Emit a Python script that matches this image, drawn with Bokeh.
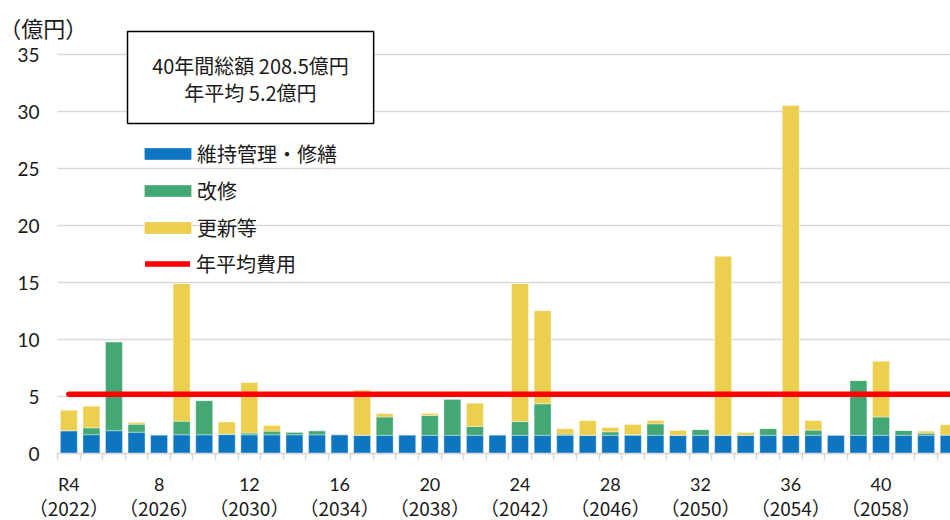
from bokeh.plotting import figure
from bokeh.models import (ColumnDataSource, FixedTicker, LinearAxis, Legend, LegendItem,
                          BoxAnnotation, Label, Range1d)
from bokeh.embed import file_html
from bokeh.resources import INLINE

# ---------------- data ----------------
reiwa = [4, 5, 6, 7, 8, 9, 10, 11, 12, 13, 14, 15, 16, 17, 18, 19, 20, 21, 22, 23,
         24, 25, 26, 27, 28, 29, 30, 31, 32, 33, 34, 35, 36, 37, 38, 39, 40, 41, 42, 43]

tick_years = [4, 8, 12, 16, 20, 24, 28, 32, 36, 40]
tick_labels = ["R4", "8", "12", "16", "20", "24", "28", "32", "36", "40"]
western_labels = ["（2022）", "（2026）", "（2030）", "（2034）", "（2038）",
                  "（2042）", "（2046）", "（2050）", "（2054）", "（2058）"]

maintenance = [2.0, 1.65, 2.0, 1.87, 1.64, 1.64, 1.64, 1.66, 1.64, 1.64,
               1.64, 1.64, 1.64, 1.6, 1.6, 1.64, 1.6, 1.6, 1.6, 1.64,
               1.6, 1.6, 1.6, 1.6, 1.6, 1.6, 1.6, 1.6, 1.6, 1.6,
               1.6, 1.6, 1.6, 1.6, 1.62, 1.6, 1.6, 1.6, 1.6, 1.62]
renovation = [0.0, 0.6, 7.8, 0.7, 0.0, 1.2, 3.0, 0.05, 0.15, 0.32,
              0.23, 0.36, 0.05, 0.0, 1.6, 0.0, 1.73, 3.17, 0.77, 0.0,
              1.2, 2.76, 0.1, 0.0, 0.3, 0.06, 1.0, 0.0, 0.5, 0.0,
              0.0, 0.59, 0.0, 0.45, 0.0, 4.8, 1.6, 0.42, 0.18, 0.0]
renewal = [1.8, 1.9, 0.0, 0.15, 0.0, 12.06, 0.0, 1.05, 4.44, 0.5,
           0.0, 0.0, 0.0, 3.95, 0.3, 0.0, 0.17, 0.0, 2.04, 0.0,
           12.1, 8.16, 0.47, 1.29, 0.38, 0.88, 0.29, 0.42, 0.0, 15.7,
           0.24, 0.0, 28.93, 0.84, 0.0, 0.0, 4.9, 0.0, 0.18, 0.9]

annual_avg = 5.2
y_ticks = [0, 5, 10, 15, 20, 25, 30, 35]

series_keys = ["maintenance", "renovation", "renewal"]
series_names = ["維持管理・修繕", "改修", "更新等"]
avg_name = "年平均費用"
series_colors = ["#0E76C0", "#43A873", "#ECCF4E"]
avg_color = "#FF0000"
unit_text = "（億円）"
box_lines = ["40年間総額 208.5億円", "年平均 5.2億円"]

# ---------------- figure ----------------
JP = "Noto Sans CJK JP"
NUM = "Lato"
GRID = "#D9D9D9"
TXT = "#1A1A1A"

x_start = reiwa[0] - 0.5          # left edge of the category area
x_end = reiwa[-1] + 0.5

src = ColumnDataSource(dict(x=reiwa, maintenance=maintenance,
                            renovation=renovation, renewal=renewal))

# frame covers the whole canvas; axes are drawn at fixed data locations
p = figure(width=950, height=520, output_backend="svg", toolbar_location=None,
           x_range=Range1d(0.97, 43.08), y_range=Range1d(-5.877, 39.737),
           x_axis_location=None, y_axis_location="left",
           min_border_left=0, min_border_right=0, min_border_top=0, min_border_bottom=0)
p.outline_line_color = None
p.background_fill_color = "white"
p.xgrid.visible = False
p.ygrid.visible = False

# y axis drawn at the left edge of the category area
yax = p.yaxis[0]
yax.fixed_location = x_start
yax.ticker = FixedTicker(ticks=y_ticks)
yax.axis_line_color = None
yax.major_tick_line_color = None
yax.minor_tick_line_color = None
yax.major_tick_out = 0
yax.major_tick_in = 0
yax.major_label_standoff = 18
yax.major_label_text_font = NUM
yax.major_label_text_font_size = "19px"
yax.major_label_text_color = TXT

# horizontal gridlines (only over the category area)
p.segment(x0=[x_start] * len(y_ticks), x1=[x_end] * len(y_ticks), y0=y_ticks, y1=y_ticks,
          line_color=GRID, line_width=1.5)

# bars
bar_renderers = p.vbar_stack(series_keys, x="x", width=0.75, color=series_colors,
                             line_color="white", line_alpha=0.45, line_width=0.8,
                             source=src)

# average line
avg_r = p.line(x=[reiwa[0], x_end + 1], y=[annual_avg, annual_avg],
               line_color=avg_color, line_width=5.5, line_cap="round")

# x axes (fixed at y = 0)
boundaries = [r - 0.5 for r in reiwa] + [x_end]
ax1 = LinearAxis(ticker=FixedTicker(ticks=tick_years, minor_ticks=boundaries),
                 major_label_overrides=dict(zip(tick_years, tick_labels)),
                 bounds=(x_start, x_end), fixed_location=0)
ax1.axis_line_color = GRID
ax1.axis_line_width = 1.5
ax1.major_tick_line_color = None
ax1.major_tick_out = 0
ax1.major_tick_in = 0
ax1.minor_tick_line_color = GRID
ax1.minor_tick_line_width = 1.5
ax1.minor_tick_out = 7
ax1.minor_tick_in = 0
ax1.major_label_standoff = 12
ax1.major_label_text_font = NUM
ax1.major_label_text_font_size = "18px"
ax1.major_label_text_color = TXT

ax2 = LinearAxis(ticker=FixedTicker(ticks=tick_years),
                 major_label_overrides=dict(zip(tick_years, western_labels)),
                 bounds=(x_start, x_end), fixed_location=0)
ax2.axis_line_color = None
ax2.major_tick_line_color = None
ax2.minor_tick_line_color = None
ax2.major_tick_out = 0
ax2.major_tick_in = 0
ax2.major_label_standoff = 40
ax2.major_label_text_font = JP
ax2.major_label_text_font_size = "19px"
ax2.major_label_text_color = TXT

p.add_layout(ax1, "below")
p.add_layout(ax2, "below")

# summary box
box = BoxAnnotation(left=6.60, right=17.51, bottom=28.95, top=37.02,
                    fill_color="white", fill_alpha=1.0,
                    line_color="black", line_alpha=1.0, line_width=1.5)
p.add_layout(box)
p.add_layout(Label(x=12.05, y=34.04, text=box_lines[0], text_align="center",
                   text_baseline="middle", text_font=JP, text_font_size="20px",
                   text_color=TXT))
p.add_layout(Label(x=12.05, y=31.67, text=box_lines[1], text_align="center",
                   text_baseline="middle", text_font=JP, text_font_size="20px",
                   text_color=TXT))

# unit label
p.add_layout(Label(x=2.86, y=37.45, text=unit_text, text_align="center",
                   text_baseline="middle", text_font=JP, text_font_size="22px",
                   text_color=TXT))

# legends: bar swatches and the average line
bar_items = [LegendItem(label=n, renderers=[r]) for n, r in zip(series_names, bar_renderers)]
legend_bars = Legend(items=bar_items, location=(138, 278.5), orientation="vertical",
                     glyph_width=59, glyph_height=15, label_height=29, spacing=8,
                     padding=0, margin=0, border_line_color=None, background_fill_alpha=0,
                     label_text_font=JP, label_text_font_size="20px", label_standoff=0,
                     label_text_color=TXT)
legend_line = Legend(items=[LegendItem(label=avg_name, renderers=[avg_r])],
                     location=(145, 242.5), orientation="vertical",
                     glyph_width=45, glyph_height=15, label_height=29, spacing=8,
                     padding=0, margin=0, border_line_color=None, background_fill_alpha=0,
                     label_text_font=JP, label_text_font_size="20px", label_standoff=6,
                     label_text_color=TXT)
p.add_layout(legend_bars)
p.add_layout(legend_line)

open("out.html", "w").write(file_html(p, INLINE))
